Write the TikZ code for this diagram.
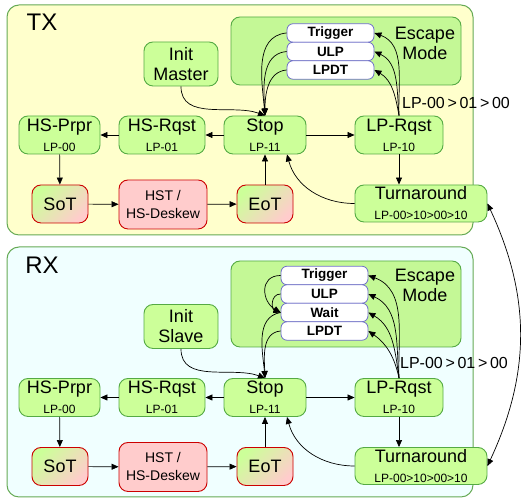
\documentclass[tikz,border=0pt]{standalone}
\usepackage{fontspec}
\setmainfont{Liberation Sans}
\usetikzlibrary{arrows.meta}
\definecolor{txback}{RGB}{255,255,204}
\definecolor{rxback}{RGB}{240,255,255}
\definecolor{panelline}{RGB}{102,170,85}
\definecolor{statefill}{RGB}{204,255,153}
\definecolor{stateline}{RGB}{85,170,68}
\definecolor{escfill}{RGB}{196,248,150}
\definecolor{subline}{RGB}{110,110,200}
\definecolor{hsfill}{RGB}{255,204,204}
\definecolor{hsline}{RGB}{204,0,0}
\def\sub{\fontsize{12}{13}\selectfont}
\begin{document}
\begin{tikzpicture}[x=1pt,y=1pt,every node/.style={font=\fontsize{18}{20}\selectfont},
  panel/.style={draw=panelline,line width=1pt,rounded corners=12pt},
  escbox/.style={draw=stateline,fill=escfill,line width=0.9pt,rounded corners=9pt},
  state/.style={draw=stateline,fill=statefill,line width=0.9pt,rounded corners=9pt,align=center,inner sep=0pt,minimum height=38pt},
  hsstate/.style={state,draw=hsline,fill=hsfill},
  sotstate/.style={hsstate,top color=statefill,bottom color=hsfill,shading angle=45},
  subbox/.style={draw=subline,fill=white,line width=0.8pt,rounded corners=6pt,inner sep=0pt,minimum width=87pt,minimum height=18.5pt,font=\fontsize{13.5}{14}\selectfont\bfseries},
  arr/.style={-{Triangle[length=7pt,width=6pt]},line width=0.7pt},
  arrb/.style={{Triangle[length=7pt,width=6pt]}-{Triangle[length=7pt,width=6pt]},line width=0.7pt}]
\useasboundingbox (0,0) rectangle (523,502);

        % TX
        \begin{scope}
        \draw[panel,fill=txback] (7,497) rectangle (473,267);
        \node[font=\fontsize{24}{24}\selectfont] (txlabel) at (42,480) {TX};
        \draw[escbox] (231,485) rectangle (461,417);
        \node[align=center] (esct) at (425,459) {Escape\\Mode};
        \node[subbox] (trigt) at (330.5,469) {Trigger};
        \node[subbox] (ulpt) at (330.5,450.5) {ULP};
        \node[subbox] (lpdtt) at (330.5,432) {LPDT};
        \node[state,minimum width=74pt,minimum height=44pt] (initm) at (181,438) {Init\\Master};
        \node[state,minimum width=82pt] (stopt) at (265,367) {Stop\\\sub LP-11};
        \node[state,minimum width=88pt] (lprt) at (399,367) {LP-Rqst\\\sub LP-10};
        \node[state,minimum width=86pt] (hsrt) at (162,367) {HS-Rqst\\\sub LP-01};
        \node[state,minimum width=81pt] (hspt) at (59.5,367) {HS-Prpr\\\sub LP-00};
        \node[sotstate,minimum width=56pt] (sott) at (60,298) {SoT};
        \node[hsstate,minimum width=88pt,minimum height=49pt,font=\fontsize{14}{18}\selectfont] (hstt) at (163,297.5) {HST /\\HS-Deskew};
        \node[sotstate,minimum width=56pt] (eott) at (265,298) {EoT};
        \node[state,minimum width=132pt,minimum height=37pt] (turnt) at (421,298.5) {Turnaround\\\fontsize{12}{12}\selectfont LP-00>10>00>10};
        \node[font=\fontsize{16}{16}\selectfont] (lpseqt) at (456,399) {LP-00\,>\,01\,>\,00};
        \draw[arr] (initm.south) to[out=-90,in=160] (stopt.north);
        \draw[arr] (trigt.west) to[out=185,in=95] (stopt.north);
        \draw[arr] (ulpt.west) to[out=185,in=93] (stopt.north);
        \draw[arr] (lpdtt.west) to[out=185,in=90] (stopt.north);
        \draw[arr] (lprt.north) to[out=92,in=-20] (trigt.east);
        \draw[arr] (lprt.north) to[out=95,in=-25] (ulpt.east);
        \draw[arr] (lprt.north) to[out=100,in=-30] (lpdtt.east);
        \draw[arr] (stopt.east) -- (lprt.west);
        \draw[arr] (lprt.south) -- (lprt.south |- turnt.north);
        \draw[arr] (turnt.west) to[out=180,in=-75] ([xshift=22pt]stopt.south);
        \draw[arr] (eott.north) -- (stopt.south);
        \draw[arr] (stopt.west) -- (hsrt.east);
        \draw[arr] (hsrt.west) -- (hspt.east);
        \draw[arr] (hspt) -- (sott);
        \draw[arr] (sott) -- (hstt);
        \draw[arr] (hstt) -- (eott);
        \end{scope}

        % RX
        \begin{scope}[shift={(0,-262.5)}]
        \draw[panel,fill=rxback] (7,517.5) rectangle (473,267.5);
        \node[font=\fontsize{24}{24}\selectfont] (rxlabel) at (42,499.5) {RX};
        \draw[escbox] (231,503.5) rectangle (461,417.5);
        \node[align=center] (escr) at (425,479.5) {Escape\\Mode};
        \node[subbox] (trigr) at (324.5,489) {Trigger};
        \node[subbox] (ulpr) at (324.5,470.5) {ULP};
        \node[subbox] (waitr) at (324.5,452) {Wait};
        \node[subbox] (lpdtr) at (324.5,433.5) {LPDT};
        \node[state,minimum width=74pt,minimum height=44pt] (inits) at (181,438) {Init\\Slave};
        \node[state,minimum width=82pt] (stopr) at (265,367) {Stop\\\sub LP-11};
        \node[state,minimum width=88pt] (lprr) at (399,367) {LP-Rqst\\\sub LP-10};
        \node[state,minimum width=86pt] (hsrr) at (162,367) {HS-Rqst\\\sub LP-01};
        \node[state,minimum width=81pt] (hspr) at (59.5,367) {HS-Prpr\\\sub LP-00};
        \node[sotstate,minimum width=56pt] (sotr) at (60,298) {SoT};
        \node[hsstate,minimum width=88pt,minimum height=49pt,font=\fontsize{14}{18}\selectfont] (hstr) at (163,297.5) {HST /\\HS-Deskew};
        \node[sotstate,minimum width=56pt] (eotr) at (265,298) {EoT};
        \node[state,minimum width=132pt,minimum height=37pt] (turnr) at (421,298.5) {Turnaround\\\fontsize{12}{12}\selectfont LP-00>10>00>10};
        \node[font=\fontsize{16}{16}\selectfont] (lpseqr) at (454,401.5) {LP-00\,>\,01\,>\,00};
        \draw[arr] (inits.south) to[out=-90,in=160] (stopr.north);
        \draw[arr] (trigr.west) to[out=180,in=150,looseness=1.5] (waitr.west);
        \draw[arr] (ulpr.west) to[out=180,in=160,looseness=1.4] (waitr.west);
        \draw[arr] (waitr.west) to[out=190,in=95] (stopr.north);
        \draw[arr] (lpdtr.west) to[out=185,in=92] (stopr.north);
        \draw[arr] (lprr.north) to[out=92,in=-20] (trigr.east);
        \draw[arr] (lprr.north) to[out=95,in=-25] (ulpr.east);
        \draw[arr] (lprr.north) to[out=98,in=-30] (waitr.east);
        \draw[arr] (lprr.north) to[out=102,in=-35] (lpdtr.east);
        \draw[arr] (stopr.east) -- (lprr.west);
        \draw[arr] (lprr.south) -- (lprr.south |- turnr.north);
        \draw[arr] (turnr.west) to[out=180,in=-75] ([xshift=22pt]stopr.south);
        \draw[arr] (eotr.north) -- (stopr.south);
        \draw[arr] (stopr.west) -- (hsrr.east);
        \draw[arr] (hsrr.west) -- (hspr.east);
        \draw[arr] (hspr) -- (sotr);
        \draw[arr] (sotr) -- (hstr);
        \draw[arr] (hstr) -- (eotr);
        \end{scope}

        \draw[arrb] (turnt.east) to[out=-65,in=65] (turnr.east);
\end{tikzpicture}
\end{document}
